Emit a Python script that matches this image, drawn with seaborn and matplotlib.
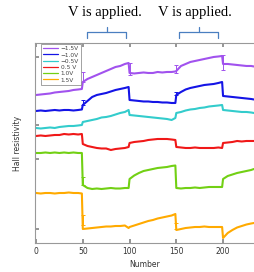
import matplotlib
matplotlib.use("Agg")
import matplotlib.pyplot as plt
import matplotlib.transforms as mtransforms
import numpy as np
import pandas as pd
import seaborn as sns

# sample numbers (shared by all series)
number = [0, 5, 10, 15, 20, 25, 30, 35, 40, 45, 49,
          50, 55, 60, 65, 70, 75, 80, 85, 90, 95, 99,
          100, 105, 110, 115, 120, 125, 130, 135, 140, 145, 149,
          150, 155, 160, 165, 170, 175, 180, 185, 190, 195, 199,
          200, 205, 210, 215, 220, 225, 230, 233]

# Hall resistivity (arbitrary units, offset per bias)
m15 = [148, 148.5, 149, 149.5, 150.5, 151, 151.5, 152, 153, 153.5, 154,
       161, 164, 166, 168, 170, 172, 174, 176, 177, 179, 180,
       170, 169.5, 170, 170.5, 170, 170, 171, 170.5, 171, 171, 171.5,
       172, 177, 179, 181, 182, 183, 184, 185, 186, 186.5, 187,
       179, 179, 178.5, 178, 177.5, 177, 177, 176.5]
m10 = [132, 132.5, 132, 132.5, 133, 132.5, 133, 133, 132.5, 133, 133.5,
       138, 142, 146, 148, 149, 150, 151.5, 153, 154, 155, 156,
       143, 142.5, 142, 141.5, 141.5, 141, 141, 140.5, 140.5, 140, 140,
       148, 151, 153.5, 155, 156, 157, 158, 158.5, 159, 160, 161,
       147, 146.5, 146, 145.5, 145, 144.5, 144, 143.5]
m05 = [115, 114.5, 115, 115.5, 115, 116, 116.5, 117, 117, 117.5, 118,
       121, 122, 123, 124, 125.5, 126, 127, 128.5, 130, 131, 133,
       128, 127.5, 127, 126.5, 126, 125.5, 125, 124.5, 124, 123, 125,
       130, 131, 132.5, 133.5, 134, 135, 135.5, 136.5, 137, 137.5, 138,
       133, 132.5, 132, 131.5, 131, 131, 130.5, 130]
p05 = [107, 107.5, 107, 107.5, 108, 108, 109, 108.5, 109, 108.5, 109,
       99, 97, 96, 95, 94.5, 94.5, 93, 94, 94.5, 95, 96,
       100, 101, 101.5, 102, 103, 103.5, 104, 104, 104, 103.5, 103,
       96, 95.5, 95, 95, 95.5, 95, 95, 95, 95, 95.5, 95,
       100, 100.5, 101, 102, 101.5, 102, 102, 102]
p10 = [90, 90, 90.5, 90, 90.5, 90, 90.5, 90, 90.5, 90, 90,
       58, 55, 54, 54.5, 54, 54.5, 55, 54.5, 54.5, 55, 55,
       64, 67.5, 70, 72, 73, 74, 75, 75.5, 76, 77, 77.5,
       55, 54.5, 55, 55, 55.5, 55, 55.5, 56, 56, 56, 56,
       64, 67, 68.5, 70, 71, 72, 73, 74]
p15 = [50, 49.5, 50, 50, 49.5, 50, 50, 50.5, 50, 50, 49.5,
       14, 14.5, 15, 15.5, 16, 16.5, 16.5, 17, 17, 17.5, 15,
       16, 17.5, 19, 20.5, 22, 23, 24.5, 25.5, 26.5, 27.5, 29,
       13, 14, 15, 15.5, 16, 16, 16.5, 16, 16, 16, 16,
       5, 10, 13, 15.5, 17, 18.5, 19.5, 20]

labels = ["\u22121.5V", "\u22121.0V", "\u22120.5V", "0.5 V", "1.0V", "1.5V"]
colors = ["#a152ee", "#1414e6", "#33cccc", "#f01818", "#72d014", "#ffaa00"]

# error bars at the switching points: series index, number, centre, half width
err_series = [0, 0, 0, 0, 1, 1, 4, 5, 5]
err_number = [50, 100, 150, 200, 50, 150, 50, 50, 150]
err_centre = [166, 174, 174, 180.5, 140.5, 149.5, 62, 23, 17]
err_half = [5, 6, 4, 7.5, 2.5, 1.5, 4, 5, 3]

# voltage-on windows: bracket span and label centre (sample numbers)
windows = [(55, 96, 76), (153, 195, 174)]
label_x = [74, 170]

series = [m15, m10, m05, p05, p10, p15]
df = pd.concat([pd.DataFrame({"Number": number, "rho": s, "bias": lab})
                for s, lab in zip(series, labels)], ignore_index=True)

sns.set_theme(style="white")
plt.rcParams["font.family"] = ["DejaVu Sans"]

fig = plt.figure(figsize=(2.54, 2.72), dpi=100)
ax = fig.add_axes([0.138, 0.1066, 0.862, 0.7354])

sns.lineplot(data=df, x="Number", y="rho", hue="bias", palette=colors,
             estimator=None, sort=False, linewidth=1.5, ax=ax)

for i, xn, yc, h in zip(err_series, err_number, err_centre, err_half):
    ax.errorbar(xn, yc, yerr=h, fmt="none", ecolor=colors[i], elinewidth=0.7,
                capsize=1.5, capthick=0.7)

ax.set_xlim(-1.07, 233.1)
ax.set_ylim(0, 200)
ax.set_xticks([0, 50, 100, 150, 200])
ax.set_yticks([14, 84, 118, 186])
ax.set_yticklabels([])
ax.tick_params(axis="x", direction="in", length=3, labelsize=5.5, pad=3,
               top=True, bottom=True, color="#888888", labelcolor="#333333")
ax.tick_params(axis="y", direction="in", length=3, left=True, color="#888888")
for side in ["left", "bottom", "top"]:
    ax.spines[side].set_color("#999999")
    ax.spines[side].set_linewidth(0.8)
ax.spines["right"].set_visible(False)

ax.set_xlabel("Number", fontsize=5.5, labelpad=3, color="#333333")
ax.set_ylabel("Hall resistivity", fontsize=5.5, labelpad=6, color="#333333")

leg = ax.legend(loc="upper left", bbox_to_anchor=(0.02, 1.0), borderaxespad=0.2,
                fontsize=4.2, handlelength=2.6, frameon=True, fancybox=False,
                labelspacing=0.2, borderpad=0.35, handletextpad=0.5)
leg.get_frame().set_edgecolor("#777777")
leg.get_frame().set_linewidth(0.6)
for line in leg.get_lines():
    line.set_linewidth(0.9)
for t in leg.get_texts():
    t.set_color("#444444")

# brackets marking where the voltage is applied
trans = mtransforms.blended_transform_factory(ax.transData, ax.transAxes)
for (x0, x1, xm), xt in zip(windows, label_x):
    ax.plot([x0, x0, x1, x1], [1.025, 1.057, 1.057, 1.025], transform=trans,
            color="#4a7fc0", lw=0.9, clip_on=False)
    ax.plot([xm, xm], [1.057, 1.078], transform=trans,
            color="#4a7fc0", lw=0.9, clip_on=False)
    ax.text(xt, 1.12, "V is applied.", transform=trans, ha="center",
            va="bottom", fontsize=10.5, family="Liberation Serif", color="black")

fig.savefig("out.png", dpi=100)
